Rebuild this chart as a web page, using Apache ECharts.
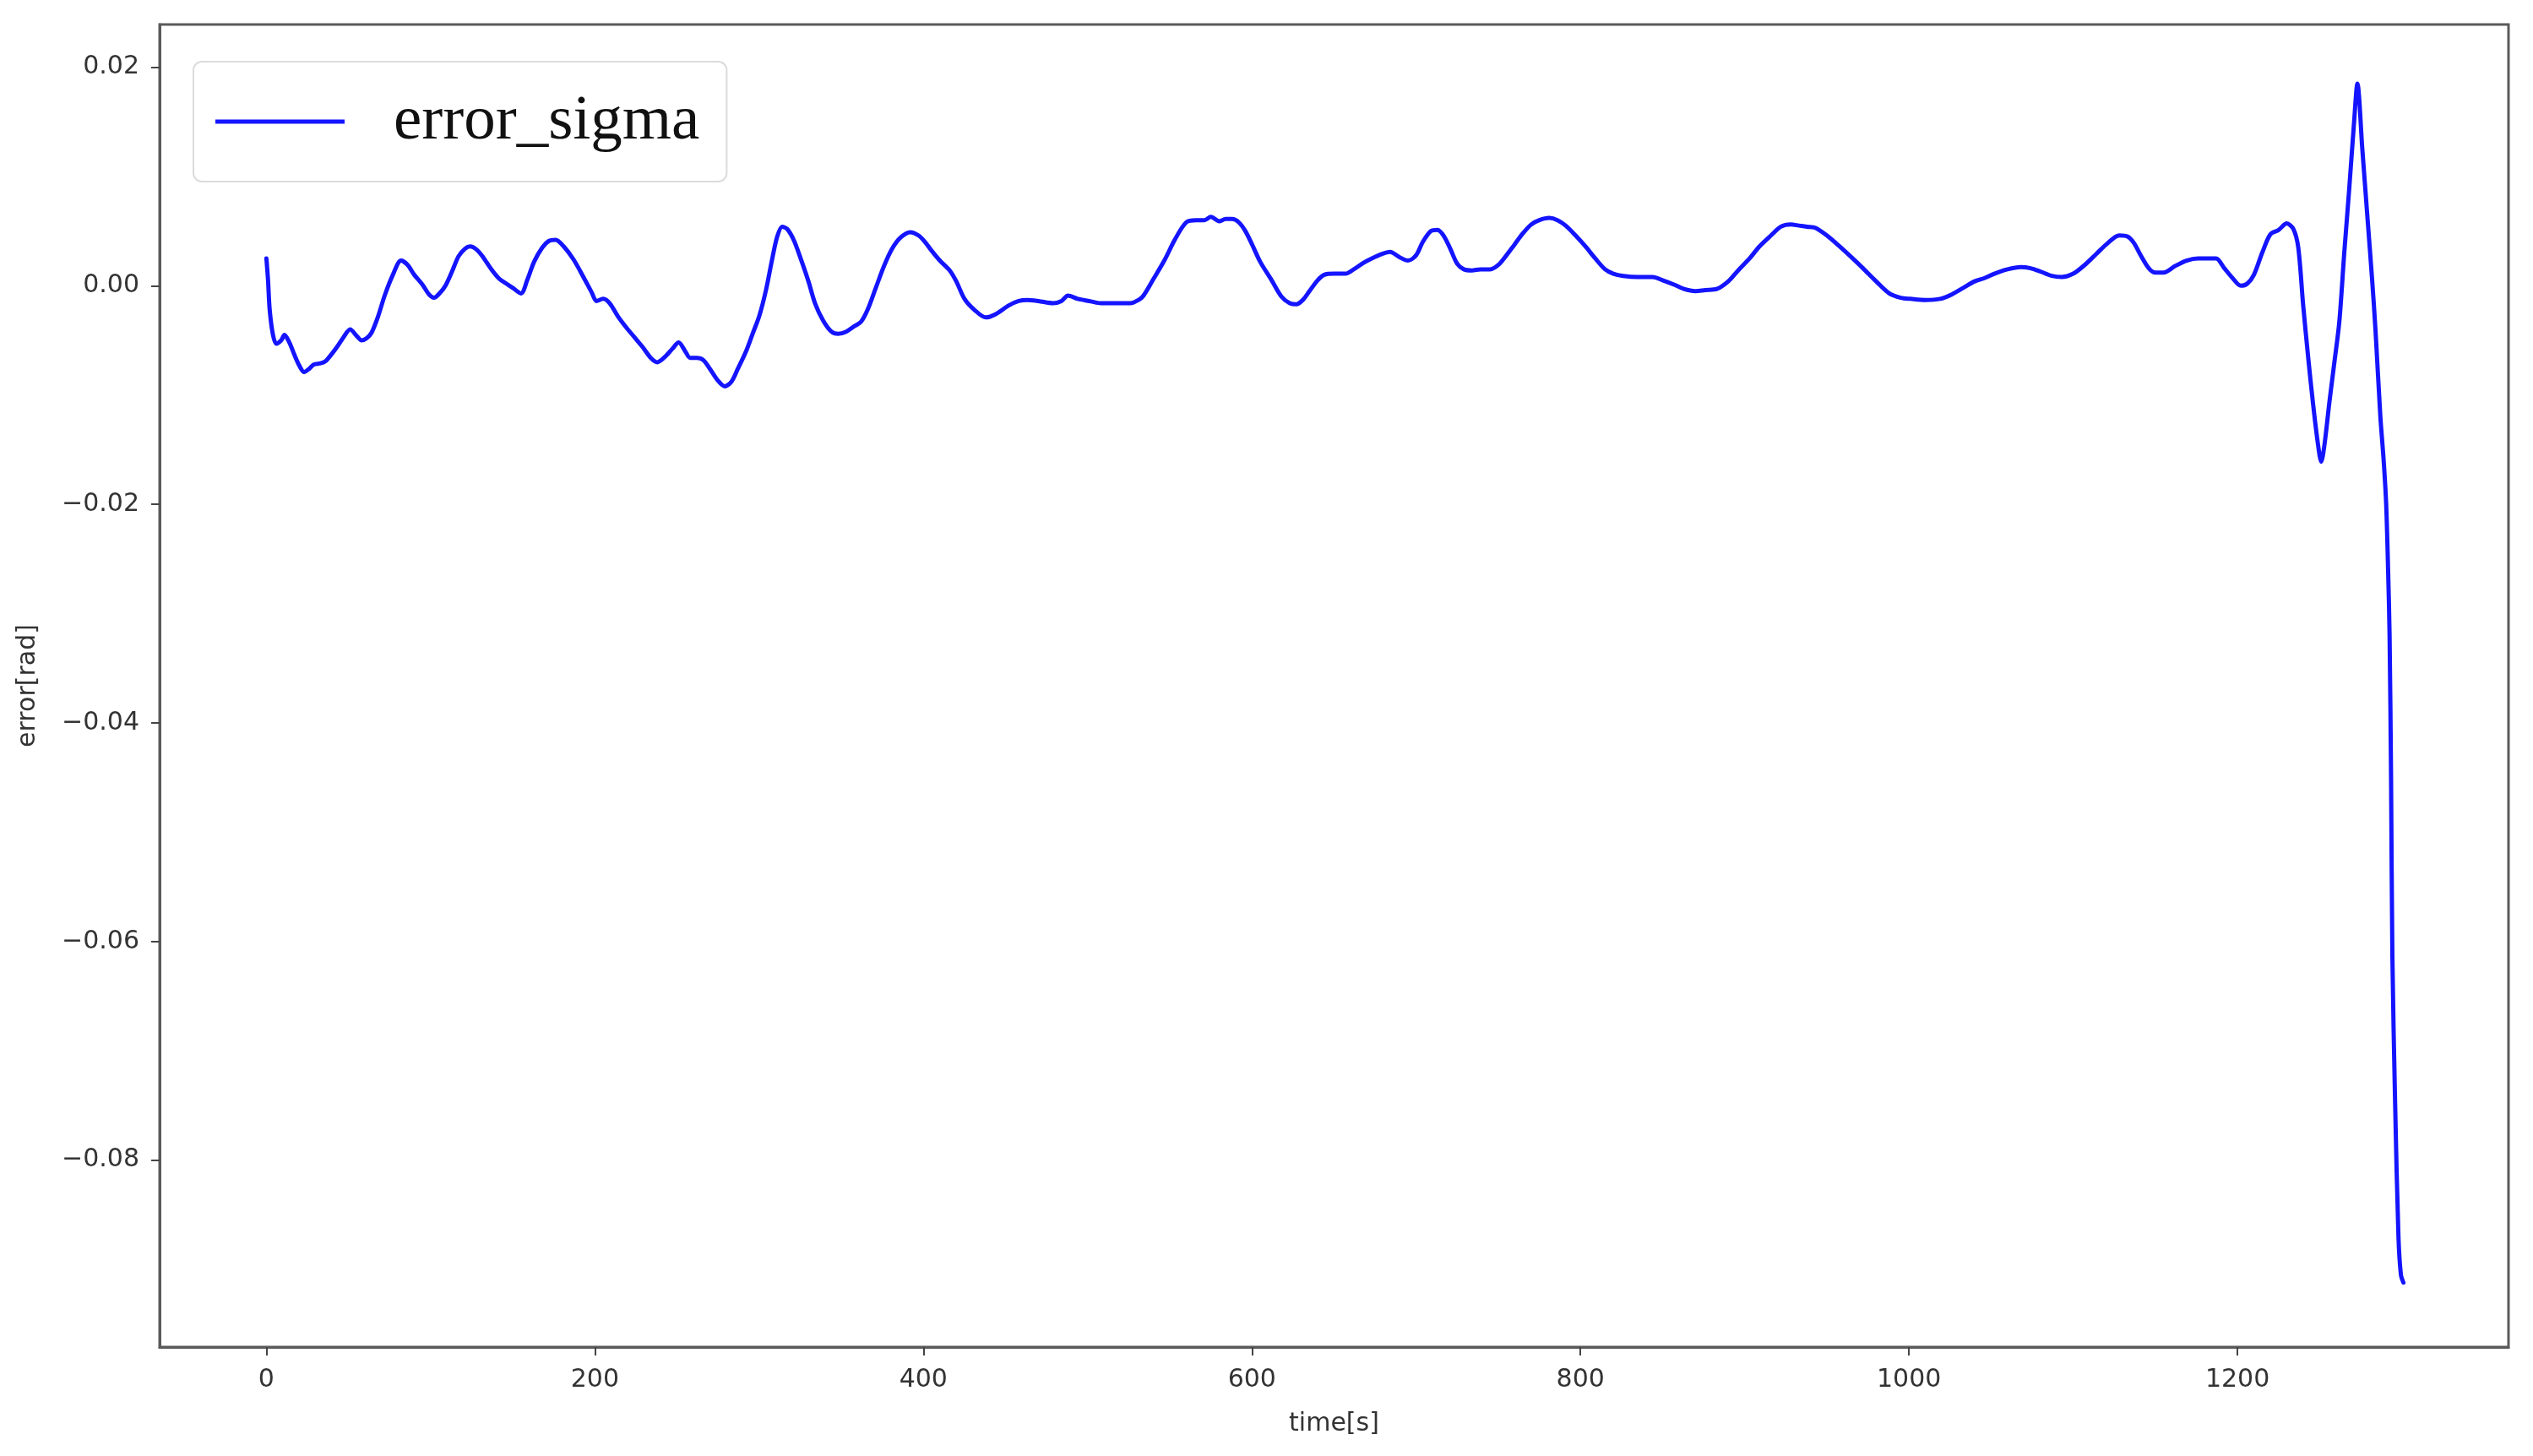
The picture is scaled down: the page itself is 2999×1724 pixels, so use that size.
<!DOCTYPE html>
<html><head><meta charset="utf-8">
<script src="https://cdn.jsdelivr.net/npm/echarts@6/dist/echarts.min.js"></script>
<style>html,body{margin:0;padding:0;background:#fff}#c{width:2999px;height:1724px}</style>
</head><body><div id="c"></div>
<script>
const seriesName = 'error_sigma';
const xAxisName = 'time[s]';
const yAxisName = 'error[rad]';
const xTicks = [0, 200, 400, 600, 800, 1000, 1200];
const yTicks = [0.02, 0, -0.02, -0.04, -0.06, -0.08];
const time = [0,1,2,4,6,9,11,14,17,20,23,26,29,33,36,40,43,47,51,55,58,61,64,68,72,77,82,86,90,95,99,102,106,109,113,117,121,124,128,132,137,142,146,150,155,159,163,168,172,176,181,187,193,198,201,205,209,214,219,224,229,234,238,242,247,251,255,258,262,266,270,275,279,283,287,292,296,300,304,308,311,314,317,321,325,330,334,339,344,348,353,358,362,366,371,376,381,386,392,397,401,405,410,416,420,425,431,438,444,452,458,463,470,479,484,488,494,501,508,516,526,531,534,540,547,553,560,566,571,575,580,584,588,592,596,600,605,612,618,623,627,631,635,640,644,650,657,662,668,673,679,684,690,695,700,704,709,713,717,721,725,729,734,739,745,750,755,760,765,770,775,781,786,791,797,803,809,815,820,826,835,844,850,857,863,870,876,883,890,896,903,909,916,922,928,933,938,943,950,957,965,972,980,988,995,1001,1010,1019,1026,1033,1040,1046,1052,1060,1068,1074,1080,1087,1093,1100,1107,1114,1121,1128,1133,1137,1141,1146,1150,1155,1162,1169,1176,1183,1187,1192,1197,1202,1206,1210,1215,1220,1225,1230,1234,1237,1240,1243,1246,1249,1251,1253,1256,1259,1262,1265,1268,1271,1273,1276,1279,1282,1284,1287,1289,1290.5,1291.7,1292.6,1293.5,1294.3,1296,1298,1299.5,1301];
const errorSigma = [0.0025,0.0005,-0.0022,-0.0045,-0.0053,-0.0050,-0.0045,-0.0052,-0.0063,-0.0073,-0.0079,-0.0076,-0.0072,-0.0071,-0.0069,-0.0062,-0.0056,-0.0047,-0.0040,-0.0046,-0.0050,-0.0048,-0.0043,-0.0028,-0.0009,0.0010,0.0023,0.0019,0.0010,0.0001,-0.0008,-0.0011,-0.0006,0.0000,0.0013,0.0027,0.0034,0.0036,0.0033,0.0026,0.0015,0.0006,0.0002,-0.0002,-0.0007,0.0006,0.0022,0.0035,0.0041,0.0042,0.0036,0.0024,0.0008,-0.0006,-0.0014,-0.0012,-0.0016,-0.0028,-0.0038,-0.0047,-0.0056,-0.0066,-0.0070,-0.0066,-0.0058,-0.0052,-0.0060,-0.0066,-0.0066,-0.0068,-0.0076,-0.0087,-0.0092,-0.0088,-0.0076,-0.0060,-0.0044,-0.0028,-0.0005,0.0025,0.0045,0.0054,0.0052,0.0042,0.0026,0.0004,-0.0016,-0.0032,-0.0042,-0.0044,-0.0042,-0.0037,-0.0033,-0.0022,-0.0002,0.0018,0.0034,0.0044,0.0049,0.0046,0.0040,0.0032,0.0023,0.0014,0.0004,-0.0012,-0.0022,-0.0029,-0.0026,-0.0018,-0.0014,-0.0013,-0.0014,-0.0016,-0.0014,-0.0009,-0.0012,-0.0014,-0.0016,-0.0016,-0.0016,-0.0013,-0.0009,0.0006,0.0024,0.0042,0.0058,0.0060,0.0060,0.0063,0.0059,0.0061,0.0061,0.0058,0.0050,0.0038,0.0022,0.0005,-0.0010,-0.0016,-0.0017,-0.0013,-0.0005,0.0005,0.0010,0.0011,0.0011,0.0015,0.0021,0.0025,0.0029,0.0031,0.0026,0.0023,0.0028,0.0040,0.0050,0.0051,0.0045,0.0033,0.0020,0.0015,0.0014,0.0015,0.0015,0.0019,0.0028,0.0038,0.0048,0.0056,0.0060,0.0062,0.0060,0.0055,0.0046,0.0036,0.0025,0.0015,0.0011,0.0009,0.0008,0.0008,0.0005,0.0001,-0.0003,-0.0005,-0.0004,-0.0003,0.0004,0.0014,0.0025,0.0036,0.0046,0.0054,0.0056,0.0055,0.0054,0.0053,0.0046,0.0037,0.0026,0.0016,0.0004,-0.0007,-0.0011,-0.0012,-0.0013,-0.0012,-0.0008,-0.0002,0.0004,0.0007,0.0011,0.0015,0.0017,0.0016,0.0013,0.0009,0.0008,0.0011,0.0019,0.0029,0.0039,0.0046,0.0045,0.0039,0.0028,0.0016,0.0012,0.0012,0.0018,0.0023,0.0025,0.0025,0.0025,0.0016,0.0007,0.0000,0.0002,0.0010,0.0030,0.0047,0.0051,0.0057,0.0052,0.0035,-0.0018,-0.0065,-0.0108,-0.0145,-0.0161,-0.0145,-0.0106,-0.0070,-0.0033,0.0030,0.0088,0.0150,0.0185,0.0125,0.0065,0.0005,-0.0040,-0.0120,-0.0160,-0.0199,-0.0260,-0.0320,-0.0450,-0.0613,-0.0750,-0.0870,-0.0905,-0.0912];

const fmtY = v => (v < 0 ? '\u2212' : '') + Math.abs(v).toFixed(2);
const chart = echarts.init(document.getElementById('c'), null, {renderer: 'canvas'});
const labelFont = {fontFamily: 'DejaVu Sans', fontSize: 30, color: '#333'};
chart.setOption({
  animation: false,
  backgroundColor: '#fff',
  grid: {left: 189, right: 29, top: 29, bottom: 129, show: true, borderColor: '#5a5a5a', borderWidth: 3, backgroundColor: 'transparent'},
  legend: {
    left: 229, top: 73,
    padding: [30, 32, 30, 26],
    backgroundColor: '#fff',
    borderColor: '#dcdcdc', borderWidth: 2, borderRadius: 10,
    itemWidth: 153, itemHeight: 5,
    icon: 'rect',
    data: [{name: seriesName, icon: 'rect'}],
    itemStyle: {color: '#1414ff'},
    textStyle: {fontFamily: 'Liberation Serif', fontSize: 75, color: '#111', lineHeight: 82, padding: [0, 0, 0, 53]}
  },
  xAxis: {
    type: 'value', min: -65, max: 1365,
    name: xAxisName, nameLocation: 'middle', nameGap: 76,
    nameTextStyle: labelFont,
    axisLine: {show: true, onZero: false, lineStyle: {color: '#5a5a5a', width: 3}},
    axisTick: {show: true, length: 10, lineStyle: {color: '#444', width: 2}, customValues: xTicks},
    axisLabel: Object.assign({margin: 24, customValues: xTicks, formatter: v => String(v)}, labelFont),
    splitLine: {show: false}
  },
  yAxis: {
    type: 'value', min: -0.0971, max: 0.0239,
    name: yAxisName, nameLocation: 'middle', nameGap: 141, nameRotate: 90,
    nameTextStyle: labelFont,
    axisLine: {show: true, onZero: false, lineStyle: {color: '#5a5a5a', width: 3}},
    axisTick: {show: true, length: 10, lineStyle: {color: '#444', width: 2}, customValues: yTicks},
    axisLabel: Object.assign({margin: 24, customValues: yTicks, formatter: fmtY}, labelFont),
    splitLine: {show: false}
  },
  series: [{
    name: seriesName, type: 'line',
    data: time.map((t, i) => [t, errorSigma[i]]),
    showSymbol: false, symbol: 'none',
    smooth: 0.3,
    lineStyle: {color: '#1414ff', width: 5, join: 'round', cap: 'round'},
    itemStyle: {color: '#1414ff'}
  }]
});
</script></body></html>
